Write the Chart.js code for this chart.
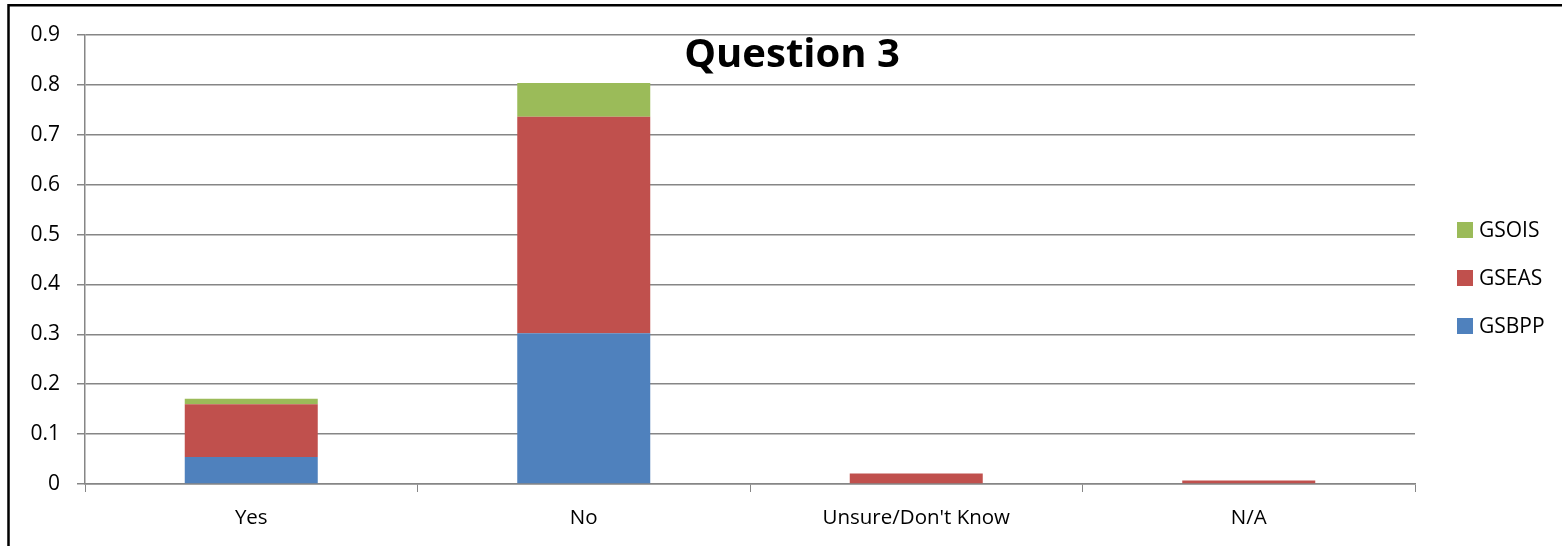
<!DOCTYPE html>
<html>
<head>
<meta charset="utf-8">
<script src="https://cdn.jsdelivr.net/npm/chart.js@4/dist/chart.umd.min.js"></script>
<style>
  html, body { margin: 0; padding: 0; background: #fff; }
  #wrap { width: 1562px; height: 546px; position: relative; }
</style>
</head>
<body>
<div id="wrap"><canvas id="chart"></canvas></div>
<script>
// data
const categories = ['Yes', 'No', "Unsure/Don't Know", 'N/A'];
const gsbpp = [0.054, 0.302, 0, 0];
const gseas = [0.106, 0.434, 0.021, 0.0072];
const gsois = [0.011, 0.068, 0, 0];

const FONT = '"Open Sans", Lato, sans-serif';
const gridColor = '#868686';

// frame lines + title + legend, drawn on the canvas
const decor = {
    id: 'decor',
    beforeDraw(chart) {
        const ctx = chart.ctx;
        ctx.save();
        ctx.strokeStyle = '#000';
        ctx.lineWidth = 2.5;
        ctx.beginPath();
        ctx.moveTo(8.5, 546);
        ctx.lineTo(8.5, 5.3);
        ctx.lineTo(1562, 5.3);
        ctx.stroke();
        ctx.restore();
    },
    afterDraw(chart) {
        const ctx = chart.ctx;
        ctx.save();
        ctx.fillStyle = '#000';
        ctx.font = 'bold 40px ' + FONT;
        ctx.textAlign = 'center';
        ctx.textBaseline = 'alphabetic';
        ctx.fillText('Question 3', 792, 67);

        // legend, reverse order like the stacks
        const ds = chart.data.datasets.slice().reverse();
        ctx.font = '21px ' + FONT;
        ctx.textAlign = 'left';
        ctx.textBaseline = 'middle';
        ds.forEach((d, i) => {
            const cy = 230 + i * 48;
            ctx.fillStyle = d.backgroundColor;
            ctx.fillRect(1457, cy - 8, 16, 16);
            ctx.fillStyle = '#000';
            ctx.fillText(d.label, 1479, cy + 1);
        });
        ctx.restore();
    }
};

new Chart(document.getElementById('chart'), {
    type: 'bar',
    data: {
        labels: categories,
        datasets: [
            { label: 'GSBPP', data: gsbpp, backgroundColor: '#4F81BD' },
            { label: 'GSEAS', data: gseas, backgroundColor: '#C0504D' },
            { label: 'GSOIS', data: gsois, backgroundColor: '#9BBB59' }
        ]
    },
    options: {
        responsive: true,
        maintainAspectRatio: false,
        animation: false,
        layout: { padding: { left: 0, right: 147, top: 35, bottom: 0 } },
        datasets: { bar: { categoryPercentage: 1, barPercentage: 0.4, borderWidth: 0 } },
        plugins: { legend: { display: false }, tooltip: { enabled: false }, title: { display: false } },
        scales: {
            x: {
                stacked: true,
                offset: true,
                grid: { offset: true, drawOnChartArea: false, drawTicks: true, tickLength: 8, color: gridColor, lineWidth: 1 },
                border: { color: gridColor, width: 1.5 },
                ticks: { color: '#000', font: { family: FONT, size: 20.5 }, padding: 14 },
                afterFit(scale) { scale.height = 62; }
            },
            y: {
                stacked: true,
                min: 0,
                max: 0.9,
                grid: { color: gridColor, lineWidth: 1.5, tickLength: 8 },
                border: { color: gridColor, width: 1.5 },
                ticks: {
                    stepSize: 0.1,
                    color: '#000',
                    font: { family: FONT, size: 21 },
                    padding: 17,
                    callback: v => (Math.abs(v) < 1e-9 ? '0' : v.toFixed(1))
                },
                afterFit(scale) { scale.width = 85; }
            }
        }
    },
    plugins: [decor]
});
</script>
</body>
</html>
